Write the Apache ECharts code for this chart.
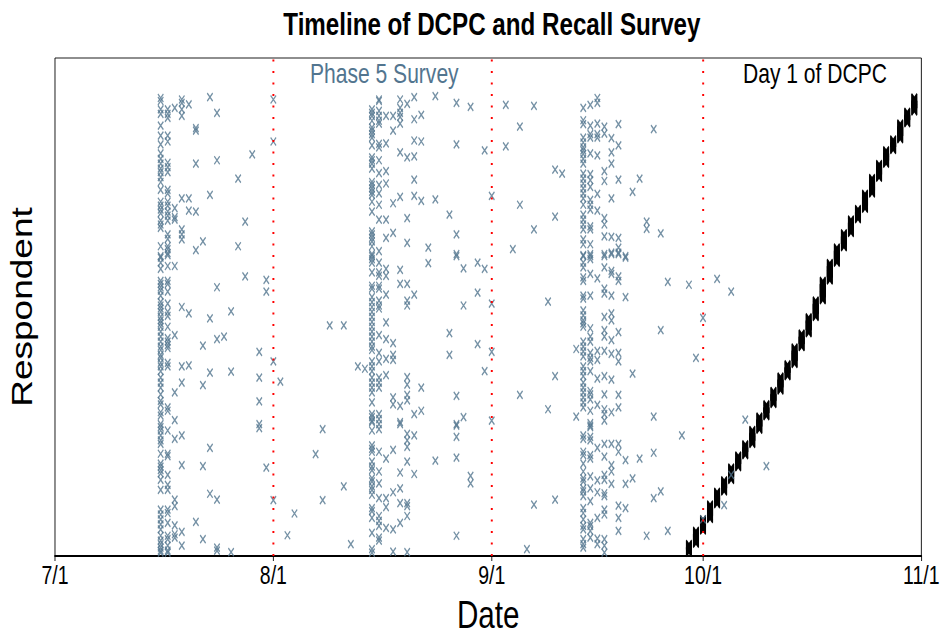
<!DOCTYPE html>
<html>
<head>
<meta charset="utf-8">
<script src="https://cdn.jsdelivr.net/npm/echarts@6/dist/echarts.min.js"></script>
<style>
  html, body { margin: 0; padding: 0; background: #fff; overflow: hidden; }
  #main { height: 639px; transform-origin: 0 0; }
</style>
</head>
<body>
<div id="main"></div>
<script>
// x = days since 7/1, y = respondent rank (sorted by DCPC day 1)
const tickDays = [0, 31, 62, 92, 123];
const tickLabels = ['7/1', '8/1', '9/1', '10/1', '11/1'];
const monthLineDays = [31, 62, 92];

// Day 1 of DCPC: respondents per day, 9/29 .. 10/31
const dcpcDays = [90, 91, 92, 93, 94, 95, 96, 97, 98, 99, 100, 101, 102, 103, 104, 105, 106,
  107, 108, 109, 110, 111, 112, 113, 114, 115, 116, 117, 118, 119, 120, 121, 122];
const dcpcCounts = [18, 27, 23, 30, 26, 23, 26, 24, 23, 29, 27, 25, 27, 29, 25, 34, 28,
  33, 34, 40, 36, 31, 29, 28, 21, 31, 32, 28, 28, 22, 32, 24, 29];

// Phase 5 (recall) survey date per respondent, grouped by day
const recallDays = [15, 16, 17, 18, 19, 20, 21, 22, 23, 24, 25, 26, 27, 28, 29, 30, 31, 32, 33, 34,
  37, 38, 39, 41, 42, 43, 44, 45, 46, 47, 48, 49, 50, 51, 52, 53, 54, 56, 57, 58, 59, 60, 61, 62,
  64, 65, 66, 67, 68, 70, 71, 72, 74, 75, 76, 77, 78, 79, 80, 81, 82, 83, 84, 85, 86, 87, 89, 90,
  91, 92, 94, 95, 96, 98, 101];
const recallRanks = [
  [921, 915, 898, 889, 865, 845, 827, 809, 798, 788, 778, 771, 761, 751, 735, 711, 703, 695, 688, 673, 665, 658, 621, 601,
   598, 588, 575, 551, 545, 538, 531, 521, 508, 501, 495, 488, 478, 471, 465, 458, 448, 438, 428, 418, 411, 401, 395, 385,
   378, 368, 355, 345, 335, 321, 308, 301, 285, 278, 261, 255, 248, 238, 228, 221, 201, 181, 175, 168, 161, 148, 128, 88,
   78, 68, 58, 48, 35, 25, 18, 11, 5, 1],
  [898, 889, 881, 845, 833, 790, 781, 771, 735, 728, 711, 703, 691, 683, 673, 645, 636, 621, 615, 607, 603, 581, 551, 545,
   529, 505, 488, 480, 458, 435, 428, 421, 415, 385, 378, 295, 288, 248, 201, 196, 158, 138, 128, 88, 81, 61, 35, 28, 15, 5, 1],
  [901, 698, 680, 675, 581, 441, 325, 269, 231, 108, 95, 56, 38, 31],
  [918, 911, 898, 885, 718, 655, 645, 635, 498, 378, 345, 238, 178, 43, 15],
  [908, 718, 693, 485, 380],
  [860, 855, 788, 691, 613, 63],
  [631, 420, 340, 176, 28],
  [923, 725, 475, 365, 213, 120],
  [891, 795, 538, 433, 108, 11, 5],
  [438],
  [489, 367, 2],
  [758, 621],
  [671, 560],
  [807],
  [407, 355, 307, 261, 253],
  [553, 529, 173],
  [918, 833, 388, 107],
  [347],
  [36],
  [80],
  [200],
  [251, 107],
  [461],
  [461, 135],
  [18],
  [378],
  [373],
  [898, 891, 885, 875, 861, 855, 848, 841, 825, 801, 795, 788, 778, 751, 745, 738, 731, 725, 711, 691, 651, 645, 638, 631,
   621, 605, 601, 595, 588, 568, 541, 535, 518, 508, 498, 488, 478, 468, 458, 448, 438, 428, 418, 411, 388, 378, 368, 355,
   345, 335, 325, 305, 281, 275, 268, 265, 248, 218, 211, 205, 185, 175, 168, 151, 145, 135, 128, 118, 91, 85, 71, 41, 8, 1],
  [918, 915, 895, 885, 875, 869, 828, 821, 795, 769, 745, 728, 705, 675, 611, 588, 568, 561, 541, 535, 511, 501, 495, 441,
   405, 388, 355, 345, 335, 281, 271, 261, 251, 205, 165, 141, 111, 75, 65, 55, 31, 25],
  [885, 829, 773, 748, 675, 638, 575, 561, 523, 467, 433, 393, 360, 191, 111, 93, 51],
  [885, 855, 708, 648, 425, 401, 391, 315, 301, 209, 123, 48, 3],
  [918, 901, 891, 883, 869, 811, 721, 573, 545, 298, 265, 261, 163, 131, 101, 61],
  [909, 801, 678, 628, 545, 511, 501, 356, 341, 320, 309, 241, 228, 215, 185, 101, 95, 75, 2],
  [923, 878, 835, 803, 756, 723, 523, 281, 238, 160],
  [887, 833, 713, 335, 288],
  [618, 587],
  [925, 716, 187],
  [685, 445, 401],
  [911, 827, 645, 605, 601, 318, 261, 258, 235, 193, 35],
  [576, 501, 275],
  [903, 156, 141],
  [588, 527, 423],
  [815, 575, 368],
  [723, 505, 407, 268],
  [907, 823],
  [615],
  [863, 705, 320],
  [8],
  [905, 655, 98],
  [509, 291],
  [776, 681, 358, 108],
  [768],
  [413, 276],
  [901, 876, 868, 841, 831, 821, 815, 808, 798, 788, 768, 758, 748, 738, 728, 718, 705, 685, 675, 665, 655, 635, 625, 603,
   601, 588, 578, 558, 551, 521, 515, 491, 481, 471, 465, 458, 428, 418, 408, 398, 378, 368, 358, 345, 335, 325, 315, 305,
   295, 238, 231, 205, 198, 181, 165, 151, 145, 131, 125, 115, 91, 81, 68, 55, 48, 28, 18, 11],
  [907, 865, 848, 841, 809, 767, 755, 741, 715, 705, 695, 661, 655, 625, 605, 601, 595, 565, 521, 455, 438, 428, 405, 395,
   388, 368, 328, 321, 311, 288, 263, 258, 255, 235, 228, 198, 191, 155, 131, 105, 61, 55, 45, 31],
  [921, 911, 869, 848, 841, 805, 727, 693, 556, 409, 391, 353, 300, 213, 147, 123, 71, 29, 18],
  [863, 849, 773, 753, 678, 665, 641, 605, 601, 578, 535, 525, 478, 451, 438, 409, 358, 321, 291, 281, 268, 221, 195, 158,
   148, 121, 115, 88, 78, 28, 15, 1],
  [840, 811, 788, 718, 640, 608, 605, 571, 565, 521, 485, 471, 431, 403, 351, 285, 221, 178, 165, 140],
  [868, 825, 756, 638, 618, 608, 605, 560, 551, 447, 405, 388, 320, 295, 221, 205, 96, 71, 45],
  [601, 598, 518, 188, 140, 91],
  [731, 363, 151],
  [758, 191],
  [671, 656, 35],
  [858, 276, 203, 111],
  [647, 451, 125],
  [549, 45],
  [238],
  [543],
  [395],
  [476, 68],
  [555],
  [97],
  [529, 158],
  [270],
  [176]
];

// the reference is squeezed horizontally; draw wider and squeeze the same way
const SX = 0.78;
const W = 945 / SX;
const el = document.getElementById('main');
el.style.width = W + 'px';
el.style.transform = 'scaleX(' + SX + ')';

const blue = '#52758f';
const xMark = 'path://M0,0L10,10M10,0L0,10';
const font = "'Liberation Sans', Arial, sans-serif";

const dcpcData = [];
let rank = 1;
dcpcDays.forEach((d, i) => {
  for (let k = 0; k < dcpcCounts[i]; k++) dcpcData.push([d, rank++]);
});

const recallData = [];
recallDays.forEach((d, i) => {
  recallRanks[i].forEach(r => recallData.push([d, r]));
});

const chart = echarts.init(el, null, { renderer: 'svg' });
chart.setOption({
  animation: false,
  title: {
    text: 'Timeline of DCPC and Recall Survey',
    left: 488 / SX,
    top: 4,
    textAlign: 'center',
    textStyle: { fontFamily: font, fontSize: 31, fontWeight: 'bold', color: '#000' }
  },
  grid: {
    left: 55 / SX, right: 24 / SX, top: 58, bottom: 77,
    show: true, borderColor: '#000', borderWidth: 1, backgroundColor: '#fff'
  },
  xAxis: {
    type: 'value', min: 0, max: 123,
    name: 'Date', nameLocation: 'middle', nameGap: 40,
    nameTextStyle: { fontFamily: font, fontSize: 38, color: '#000' },
    axisLine: { show: true, onZero: false, lineStyle: { color: '#000', width: 2 } },
    axisTick: { show: true, length: 5, customValues: tickDays, lineStyle: { color: '#000' } },
    axisLabel: {
      customValues: tickDays,
      formatter: v => tickLabels[tickDays.indexOf(v)],
      fontFamily: font, fontSize: 25, color: '#000', margin: 7
    },
    splitLine: { show: false }
  },
  yAxis: {
    type: 'value', min: -6, max: 1002,
    name: 'Respondent', nameLocation: 'middle', nameRotate: 90, nameGap: 24,
    nameTextStyle: { fontFamily: font, fontSize: 37, color: '#000' },
    axisLine: { show: false }, axisTick: { show: false },
    axisLabel: { show: false }, splitLine: { show: false }
  },
  graphic: [
    { type: 'text', left: 310 / SX, top: 60, style: { text: 'Phase 5 Survey', fill: blue, font: '27px ' + font } },
    { type: 'text', left: 743 / SX, top: 60, style: { text: 'Day 1 of DCPC', fill: '#000', font: '27px ' + font } }
  ],
  series: [
    {
      name: 'Day 1 of DCPC', type: 'scatter', data: dcpcData,
      symbol: xMark, symbolSize: [7, 8],
      itemStyle: { color: 'none', borderColor: '#000', borderWidth: 1.6 }
    },
    {
      name: 'Phase 5 Survey', type: 'scatter', data: recallData,
      symbol: xMark, symbolSize: [7, 8],
      itemStyle: { color: 'none', borderColor: blue, borderWidth: 1.6 },
      markLine: {
        silent: true, symbol: 'none', label: { show: false },
        lineStyle: { color: '#ff0000', type: [2, 9.5], width: 2.5 },
        data: monthLineDays.map(d => ({ xAxis: d }))
      }
    }
  ]
});
</script>
</body>
</html>
